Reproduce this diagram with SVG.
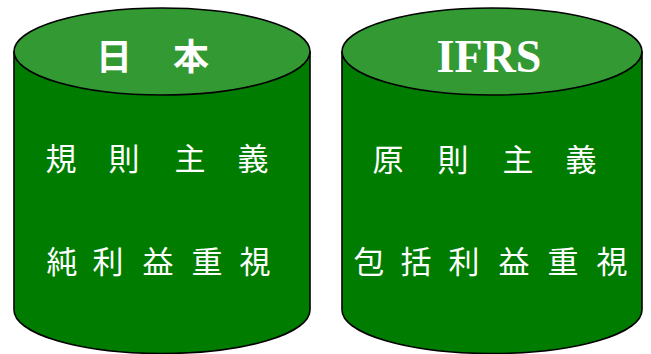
<svg xmlns="http://www.w3.org/2000/svg" width="651" height="354" viewBox="0 0 651 354">
<style>
.body{fill:#007d00;stroke:#000;stroke-width:1.6}
.top{fill:#339933;stroke:#000;stroke-width:1.6}
.t{fill:#fff;font-family:"Noto Sans CJK JP","Noto Sans CJK SC",sans-serif;font-size:31px;text-anchor:middle}
.h{fill:#fff;font-family:"Noto Sans CJK JP",sans-serif;font-size:36px;font-weight:bold;text-anchor:middle}
.hs{fill:#fff;font-family:"Liberation Serif",serif;font-size:46px;font-weight:bold;text-anchor:middle}
</style>
<rect width="651" height="354" fill="#fff"/>
<g id="japan">
<path class="body" d="M14,52 L14,310 A148,43.5 0 0 0 310,310 L310,52 Z"/>
<ellipse class="top" cx="162" cy="51.5" rx="148" ry="43.5"/>
<text class="h" x="114 191" y="70">日本</text>
<text class="t" x="61 124 190 253" y="170">規則主義</text>
<text class="t" x="62 108 158 207 255" y="273">純利益重視</text>
</g>
<g id="ifrs">
<path class="body" d="M342,52 L342,310 A150,43.5 0 0 0 642,310 L642,52 Z"/>
<ellipse class="top" cx="492" cy="51.5" rx="150" ry="43.5"/>
<text class="hs" x="489" y="72">IFRS</text>
<text class="t" x="388 453 518 581" y="171">原則主義</text>
<text class="t" x="369 416 464 514 563 612" y="273">包括利益重視</text>
</g>
<g id="connectors"/>
</svg>
